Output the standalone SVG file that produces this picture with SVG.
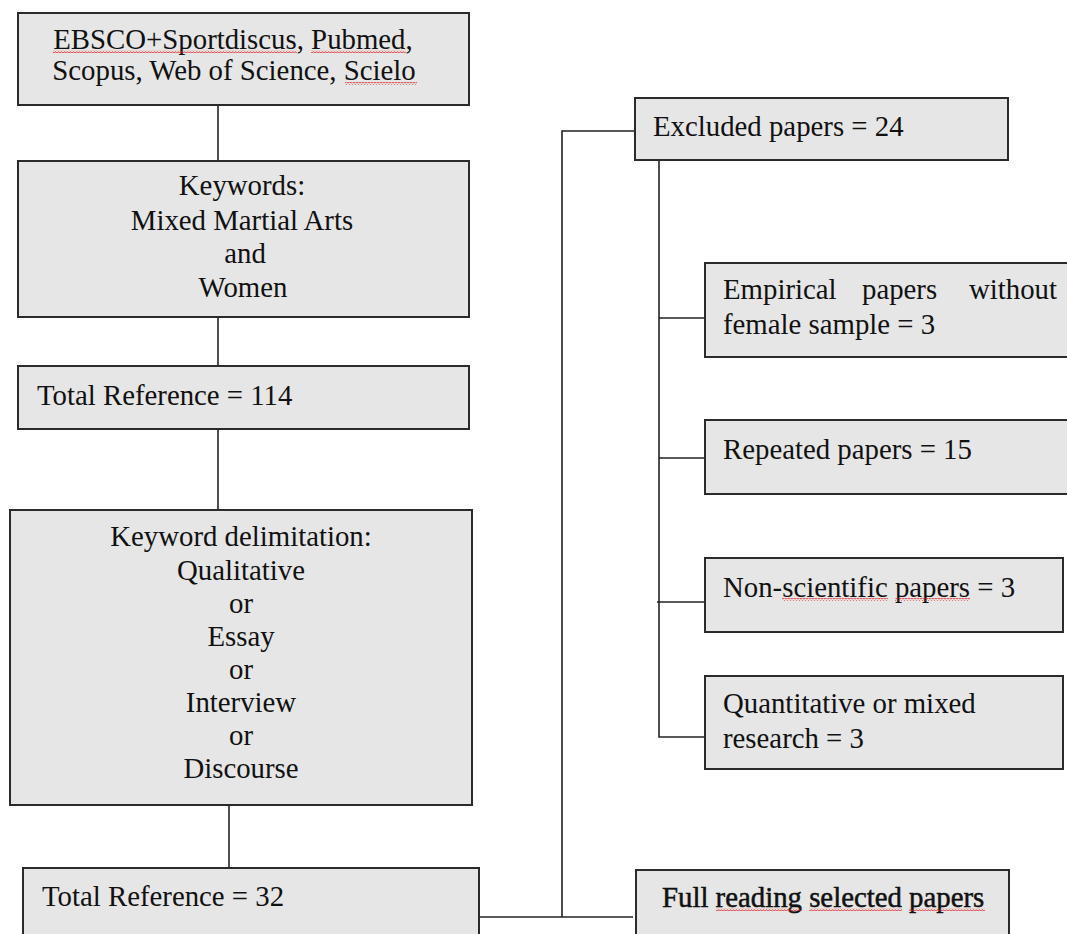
<svg xmlns="http://www.w3.org/2000/svg" width="1067" height="934" viewBox="0 0 1067 934">
<style>
.box{fill:#e6e6e6;stroke:#2b2b2b;stroke-width:2}
.t{font-family:"Liberation Serif","Times New Roman",serif;font-size:28.8px;fill:#111}
.c{text-anchor:middle}
.ln{stroke:#222;stroke-width:1.6;fill:none}
</style>
<defs>
<pattern id="wavy" width="3" height="3" patternUnits="userSpaceOnUse">
<path d="M0,2.4 L1.5,0.6 L3,2.4" stroke="#e02020" stroke-width="0.9" fill="none"/>
</pattern>
</defs>
<rect width="1067" height="934" fill="#ffffff"/>
<g id="connectors">
<line class="ln" x1="218" y1="105" x2="218" y2="161"/>
<line class="ln" x1="218" y1="317" x2="218" y2="366"/>
<line class="ln" x1="218" y1="429" x2="218" y2="510"/>
<line class="ln" x1="229" y1="805" x2="229" y2="868"/>
<polyline class="ln" points="479,917 633,917"/>
<polyline class="ln" points="562,917 562,131 635,131"/>
<polyline class="ln" points="659,161 659,737 705,737"/>
<line class="ln" x1="659" y1="318" x2="705" y2="318" stroke="#555"/>
<line class="ln" x1="659" y1="458" x2="705" y2="458"/>
<line class="ln" x1="657" y1="602" x2="705" y2="602"/>
</g>
<g id="n1">
<rect class="box" x="18" y="13" width="451" height="92"/>
<text class="t c" x="233" y="49">EBSCO+Sportdiscus, Pubmed,</text>
<text class="t c" x="234" y="80">Scopus, Web of Science, Scielo</text>
<rect x="53" y="50" width="244" height="3" fill="url(#wavy)"/>
<rect x="311" y="50" width="95" height="3" fill="url(#wavy)"/>
<rect x="345" y="82" width="72" height="3" fill="url(#wavy)"/>
</g>
<g id="n2">
<rect class="box" x="18" y="161" width="451" height="156"/>
<text class="t c" x="242" y="195">Keywords:</text>
<text class="t c" x="242" y="230">Mixed Martial Arts</text>
<text class="t c" x="245" y="263">and</text>
<text class="t c" x="243" y="297">Women</text>
</g>
<g id="n3">
<rect class="box" x="18" y="366" width="451" height="63"/>
<text class="t" x="37" y="405">Total Reference = 114</text>
</g>
<g id="n4">
<rect class="box" x="10" y="510" width="462" height="295"/>
<text class="t c" x="241" y="546">Keyword delimitation:</text>
<text class="t c" x="241" y="580">Qualitative</text>
<text class="t c" x="241" y="613">or</text>
<text class="t c" x="241" y="646">Essay</text>
<text class="t c" x="241" y="679">or</text>
<text class="t c" x="241" y="712">Interview</text>
<text class="t c" x="241" y="745">or</text>
<text class="t c" x="241" y="778">Discourse</text>
</g>
<g id="n5">
<rect class="box" x="23" y="868" width="456" height="70"/>
<text class="t" x="42" y="906">Total Reference = 32</text>
</g>
<g id="n6">
<rect class="box" x="635" y="98" width="373" height="62"/>
<text class="t" x="653" y="136">Excluded papers = 24</text>
</g>
<g id="n7">
<rect class="box" x="705" y="263" width="368" height="94"/>
<text class="t"><tspan x="723" y="299">Empirical</tspan><tspan x="862" y="299">papers</tspan><tspan x="969" y="299">without</tspan></text>
<text class="t" x="723" y="334">female sample = 3</text>
</g>
<g id="n8">
<rect class="box" x="705" y="420" width="368" height="74"/>
<text class="t" x="723" y="459">Repeated papers = 15</text>
</g>
<g id="n9">
<rect class="box" x="705" y="558" width="358" height="74"/>
<text class="t" x="723" y="597">Non-scientific papers = 3</text>
<rect x="782" y="598" width="106" height="3" fill="url(#wavy)"/>
<rect x="895" y="598" width="75" height="3" fill="url(#wavy)"/>
</g>
<g id="n10">
<rect class="box" x="705" y="676" width="358" height="93"/>
<text class="t" x="723" y="713">Quantitative or mixed</text>
<text class="t" x="723" y="748">research = 3</text>
</g>
<g id="n11">
<rect class="box" x="636" y="870" width="373" height="70"/>
<text class="t" x="662" y="907" stroke="#111" stroke-width="0.5">Full reading selected papers</text>
<rect x="716" y="908" width="86" height="3" fill="url(#wavy)"/>
<rect x="809" y="908" width="93" height="3" fill="url(#wavy)"/>
<rect x="909" y="908" width="76" height="3" fill="url(#wavy)"/>
</g>
</svg>
